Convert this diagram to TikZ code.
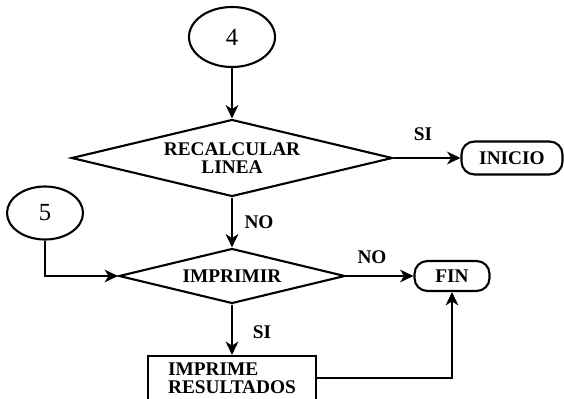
\documentclass[tikz,border=0pt]{standalone}
\usepackage{fontspec}
\setmainfont{Liberation Serif}
\usetikzlibrary{shapes.geometric,arrows.meta}
\newcommand{\flowfont}{\bfseries\fontsize{16.5}{15}\selectfont}
\tikzset{
  decision/.style={
    draw,
    diamond,
    inner sep=0pt,
    line width=1.8pt,
    align=center,
    font=\flowfont,
  },
  connector/.style={
    draw,
    ellipse,
    inner sep=0pt,
    line width=1.8pt,
    font=\fontsize{21}{21}\selectfont,
  },
  terminal/.style={
    draw,
    rectangle,
    inner sep=0pt,
    rounded corners=11pt,
    line width=1.8pt,
    font=\flowfont,
  },
  process/.style={
    draw,
    rectangle,
    inner sep=0pt,
    line width=1.8pt,
    align=left,
    font=\flowfont,
  },
  flow/.style={line width=1.8pt, -{Stealth[length=4mm,width=3.8mm,inset=1.2mm]}},
  lbl/.style={inner sep=0pt, font=\flowfont},
}

\begin{document}
\begin{tikzpicture}[x=0.03cm, y=-0.03cm]
  \useasboundingbox (0,0) rectangle (564,399);
  % nodes
  \node[connector, minimum width=2.58cm, minimum height=1.8cm] (c4) at (232,37) {4};
  \node[decision, aspect=4.2, minimum width=9.63cm, minimum height=2.31cm] (recalc) at (232,158) {RECALCULAR\\LINEA};
  \node[terminal, minimum width=3.03cm, minimum height=0.99cm] (inicio) at (512,158) {INICIO};
  \node[connector, minimum width=2.28cm, minimum height=1.59cm] (c5) at (45,213) {5};
  \node[decision, aspect=4.1, minimum width=6.78cm, minimum height=1.65cm] (imprimir) at (232,276) {IMPRIMIR};
  \node[terminal, minimum width=2.25cm, minimum height=0.9cm] (fin) at (452,276) {FIN};
  \node[process, minimum width=5.04cm, minimum height=1.32cm] (imprime) at (232,378) {IMPRIME\\RESULTADOS};
  % labels
  \node[lbl] (si1) at (423,134) {SI};
  \node[lbl] (no1) at (259,222) {NO};
  \node[lbl] (no2) at (372,257) {NO};
  \node[lbl] (si2) at (262,332) {SI};
  % connectors
  \draw[flow] (c4.south) -- (recalc.north);
  \draw[flow] (recalc.east) -- (inicio.west);
  \draw[flow] (recalc.south) -- (imprimir.north);
  \draw[flow] (c5.south) |- (imprimir.west);
  \draw[flow] (imprimir.east) -- (fin.west);
  \draw[flow] (imprimir.south) -- (imprime.north);
  \draw[flow] (imprime.east) -| (fin.south);
\end{tikzpicture}
\end{document}
